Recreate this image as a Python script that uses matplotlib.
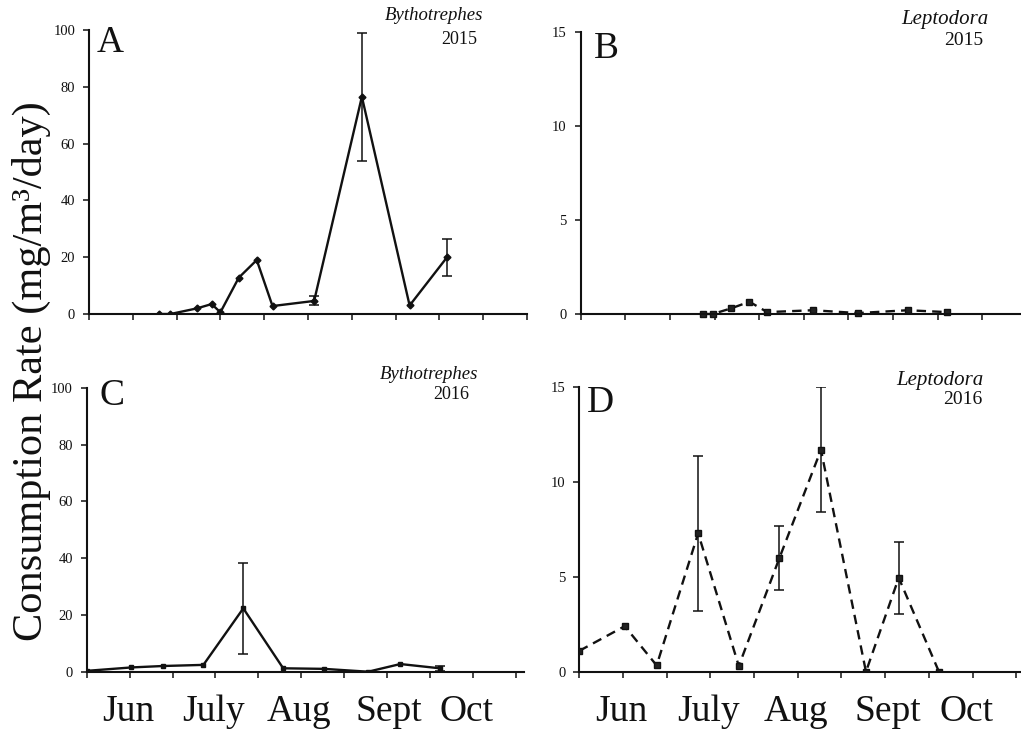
import matplotlib
matplotlib.use("Agg")
import matplotlib.pyplot as plt

plt.rcParams['font.family'] = ['Liberation Serif', 'DejaVu Serif']

# Sampling dates on a 0-10 time axis (ticks ~ every two weeks, late May to Oct)
days_2015 = [1.60, 1.86, 2.47, 2.80, 3.00, 3.42, 3.83, 4.19, 5.14, 6.23, 7.32, 8.17]
bytho_2015 = [0.0, 0.0, 2.0, 3.5, 0.6, 12.8, 19.0, 2.8, 4.6, 76.5, 3.0, 19.9]
bytho_2015_err = [0, 0, 0, 0, 0, 0, 0, 0, 1.6, 22.5, 0, 6.4]

days_2015_lepto = [2.75, 2.96, 3.37, 3.78, 4.18, 5.20, 6.21, 7.33, 8.20]
lepto_2015 = [0.0, 0.0, 0.3, 0.65, 0.1, 0.2, 0.05, 0.2, 0.1]

days_2016 = [0.00, 1.04, 1.77, 2.72, 3.65, 4.58, 5.53, 6.56, 7.31, 8.23]
bytho_2016 = [0.3, 1.5, 2.0, 2.4, 22.3, 1.2, 1.0, 0.0, 2.7, 1.2]
bytho_2016_err = [0, 0, 0, 0, 16.0, 0, 0, 0, 0, 0.8]

lepto_2016 = [1.1, 2.4, 0.33, 7.3, 0.3, 6.0, 11.7, 0.0, 4.95, 0.0]
lepto_2016_err = [0, 0, 0, 4.1, 0, 1.7, 3.3, 0, 1.9, 0]

months = ['Jun', 'July', 'Aug', 'Sept', 'Oct']
month_pos = [0.97, 2.96, 4.95, 7.05, 8.85]

W, H = 1021, 734
fig = plt.figure(figsize=(W / 100, H / 100), dpi=100)


def frac(x0, y0, x1, y1):
    """Axes rectangle from pixel corners (left, top, right, bottom)."""
    return [x0 / W, 1 - y1 / H, (x1 - x0) / W, (y1 - y0) / H]


axA = fig.add_axes(frac(89, 30, 527, 314))
axB = fig.add_axes(frac(580.7, 31.7, 1027, 314))
axC = fig.add_axes(frac(86.7, 387.7, 524.3, 671.7))
axD = fig.add_axes(frac(579.3, 387.3, 1029.4, 671.7))

for ax, xmax in [(axA, 10), (axB, 10), (axC, 10.2), (axD, 10.3)]:
    ax.set_xlim(0, xmax)
    ax.set_xticks(range(0, 11))
    ax.set_xticklabels([])
    for s in ('top', 'right'):
        ax.spines[s].set_visible(False)
    for s in ('left', 'bottom'):
        ax.spines[s].set_linewidth(1.5)
        ax.spines[s].set_color('#111111')
    ax.tick_params(direction='out', length=4, width=1.1, labelsize=10.5,
                   pad=6, colors='#111111')
    ax.patch.set_alpha(0)

for ax in (axA, axC):
    ax.set_ylim(0, 100)
    ax.set_yticks(range(0, 101, 20))
for ax in (axB, axD):
    ax.set_ylim(0, 15)
    ax.set_yticks([0, 5, 10, 15])

line_kw = dict(color='#111111', lw=1.7)
err_kw = dict(ecolor='#111111', elinewidth=1.1, capsize=3.5, capthick=1.1)

# Bythotrephes: solid lines
axA.errorbar(days_2015, bytho_2015,
             yerr=[e if e else float('nan') for e in bytho_2015_err],
             marker='D', ms=3.5, mfc='#111111', mec='#111111', **line_kw, **err_kw)
axC.errorbar(days_2016, bytho_2016,
             yerr=[e if e else float('nan') for e in bytho_2016_err],
             marker='s', ms=3.5, mfc='#111111', mec='#111111', **line_kw, **err_kw)

# Leptodora: dashed lines with square markers
axB.plot(days_2015_lepto, lepto_2015, marker='s', ms=5, mfc='#222222', mec='#111111',
         dashes=(4, 2.6), clip_on=False, **line_kw)
axD.errorbar(days_2016, lepto_2016,
             yerr=[e if e else float('nan') for e in lepto_2016_err],
             marker='s', ms=5, mfc='#222222', mec='#111111', dashes=(4, 2.6),
             **line_kw, **err_kw)


def ptext(x, y, s, **kw):
    fig.text(x / W, 1 - y / H, s, color='#111111', **kw)


# Panel letters
ptext(97, 26, 'A', fontsize=27, ha='left', va='top')
ptext(594, 31, 'B', fontsize=27, ha='left', va='top')
ptext(99, 378, 'C', fontsize=27, ha='left', va='top')
ptext(587, 386, 'D', fontsize=27, ha='left', va='top')

# Species / year labels
ptext(483, 7, 'Bythotrephes', fontsize=13.5, style='italic', ha='right', va='top')
ptext(477, 31, '2015', fontsize=13, ha='right', va='top')
ptext(988, 10, 'Leptodora', fontsize=15, style='italic', ha='right', va='top')
ptext(983, 32, '2015', fontsize=14, ha='right', va='top')
ptext(478, 366, 'Bythotrephes', fontsize=13.5, style='italic', ha='right', va='top')
ptext(469, 386, '2016', fontsize=13, ha='right', va='top')
ptext(983, 371, 'Leptodora', fontsize=15, style='italic', ha='right', va='top')
ptext(982, 391, '2016', fontsize=14, ha='right', va='top')

# Month labels under the bottom panels
for ax in (axC, axD):
    for m, p in zip(months, month_pos):
        ax.text(p, -0.08, m, transform=ax.get_xaxis_transform(), fontsize=27,
                ha='center', va='top', color='#111111')

fig.text(31 / W, 1 - 371 / H, 'Consumption Rate (mg/m\u00b3/day)', rotation=90,
         fontsize=30.5, ha='center', va='center', color='#111111')

fig.savefig('out.png', dpi=100)
